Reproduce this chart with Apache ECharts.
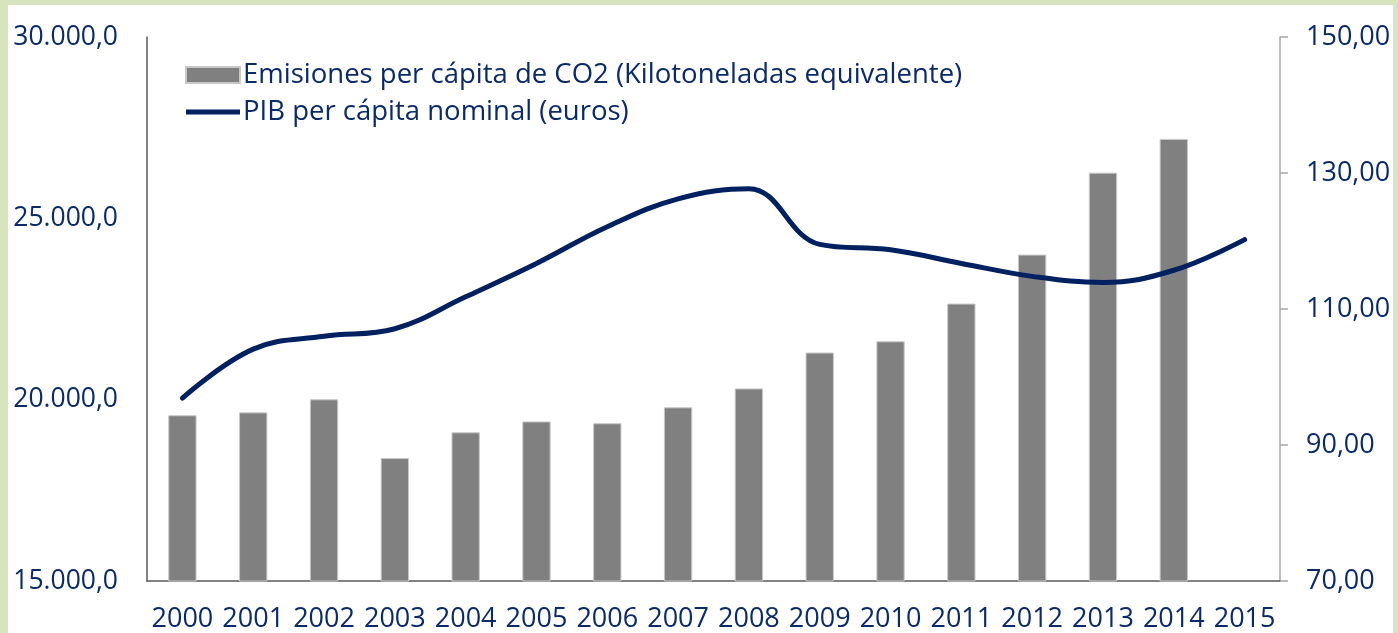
<!DOCTYPE html>
<html>
<head>
<meta charset="utf-8">
<script src="https://cdn.jsdelivr.net/npm/echarts@6/dist/echarts.min.js"></script>
<style>
  html, body { margin: 0; padding: 0; background: #d7e4bd; }
  #frame { position: absolute; left: 8px; top: 5px; right: 5px; bottom: 0; background: #fff; }
  #chart { position: absolute; left: -8px; top: -5px; width: 1398px; height: 633px; }
</style>
</head>
<body>
<div id="frame"><div id="chart"></div></div>
<script>
const years = ['2000', '2001', '2002', '2003', '2004', '2005', '2006', '2007', '2008', '2009', '2010', '2011', '2012', '2013', '2014', '2015']
const emisiones = [19570, 19650, 20010, 18390, 19100, 19400, 19350, 19790, 20310, 21300, 21610, 22650, 24000, 26260, 27190, null]
const pib = [96.9, 104.1, 106.0, 107.1, 111.8, 116.7, 122.1, 126.2, 127.7, 119.5, 118.7, 116.7, 114.8, 113.9, 115.7, 120.2]

const navy = '#0b2a66'
const font = 'Open Sans'

const chart = echarts.init(document.getElementById('chart'))
chart.setOption({
  animation: false,
  textStyle: { fontFamily: font },
  grid: { left: 147, right: 118, top: 37, bottom: 51 },
  legend: {
    left: 180,
    top: 56,
    orient: 'vertical',
    itemGap: 9,
    itemWidth: 54,
    itemHeight: 16,
    textStyle: { fontFamily: font, fontSize: 27.5, color: navy, padding: [0, 0, 0, -2] },
    data: [
      { name: 'Emisiones per cápita de CO2 (Kilotoneladas equivalente)', icon: 'rect' },
      { name: 'PIB per cápita nominal (euros)', icon: 'path://M0,0 L54,0 L54,5 L0,5 Z' }
    ]
  },
  xAxis: {
    type: 'category',
    data: years,
    axisLine: { lineStyle: { color: '#595959', width: 1.5 } },
    axisTick: { show: false },
    axisLabel: { color: navy, fontSize: 27, margin: 25, interval: 0 }
  },
  yAxis: [
    {
      type: 'value',
      min: 15000,
      max: 30000,
      interval: 5000,
      splitLine: { show: false },
      axisLine: { show: true, lineStyle: { color: '#595959', width: 1.5 } },
      axisTick: { show: false },
      axisLabel: {
        color: navy, fontSize: 26.5, margin: 29,
        formatter: v => v.toLocaleString('de-DE', { minimumFractionDigits: 1, maximumFractionDigits: 1 })
      }
    },
    {
      type: 'value',
      min: 70,
      max: 150,
      interval: 20,
      splitLine: { show: false },
      axisLine: { show: true, lineStyle: { color: '#a6a6a6', width: 1.5 } },
      axisTick: { show: true, length: 8, lineStyle: { color: '#a6a6a6', width: 1.5 } },
      axisLabel: {
        color: navy, fontSize: 27, margin: 26,
        formatter: v => v.toFixed(2).replace('.', ',')
      }
    }
  ],
  series: [
    {
      name: 'Emisiones per cápita de CO2 (Kilotoneladas equivalente)',
      type: 'bar',
      data: emisiones,
      barWidth: '40%',
      itemStyle: { color: '#808080', borderColor: '#c8c8c8', borderWidth: 1 }
    },
    {
      name: 'PIB per cápita nominal (euros)',
      type: 'line',
      yAxisIndex: 1,
      data: pib,
      smooth: 0.4,
      showSymbol: false,
      symbol: 'none',
      lineStyle: { color: '#002060', width: 5, cap: 'round' },
      itemStyle: { color: '#002060' }
    }
  ]
})
</script>
</body>
</html>
